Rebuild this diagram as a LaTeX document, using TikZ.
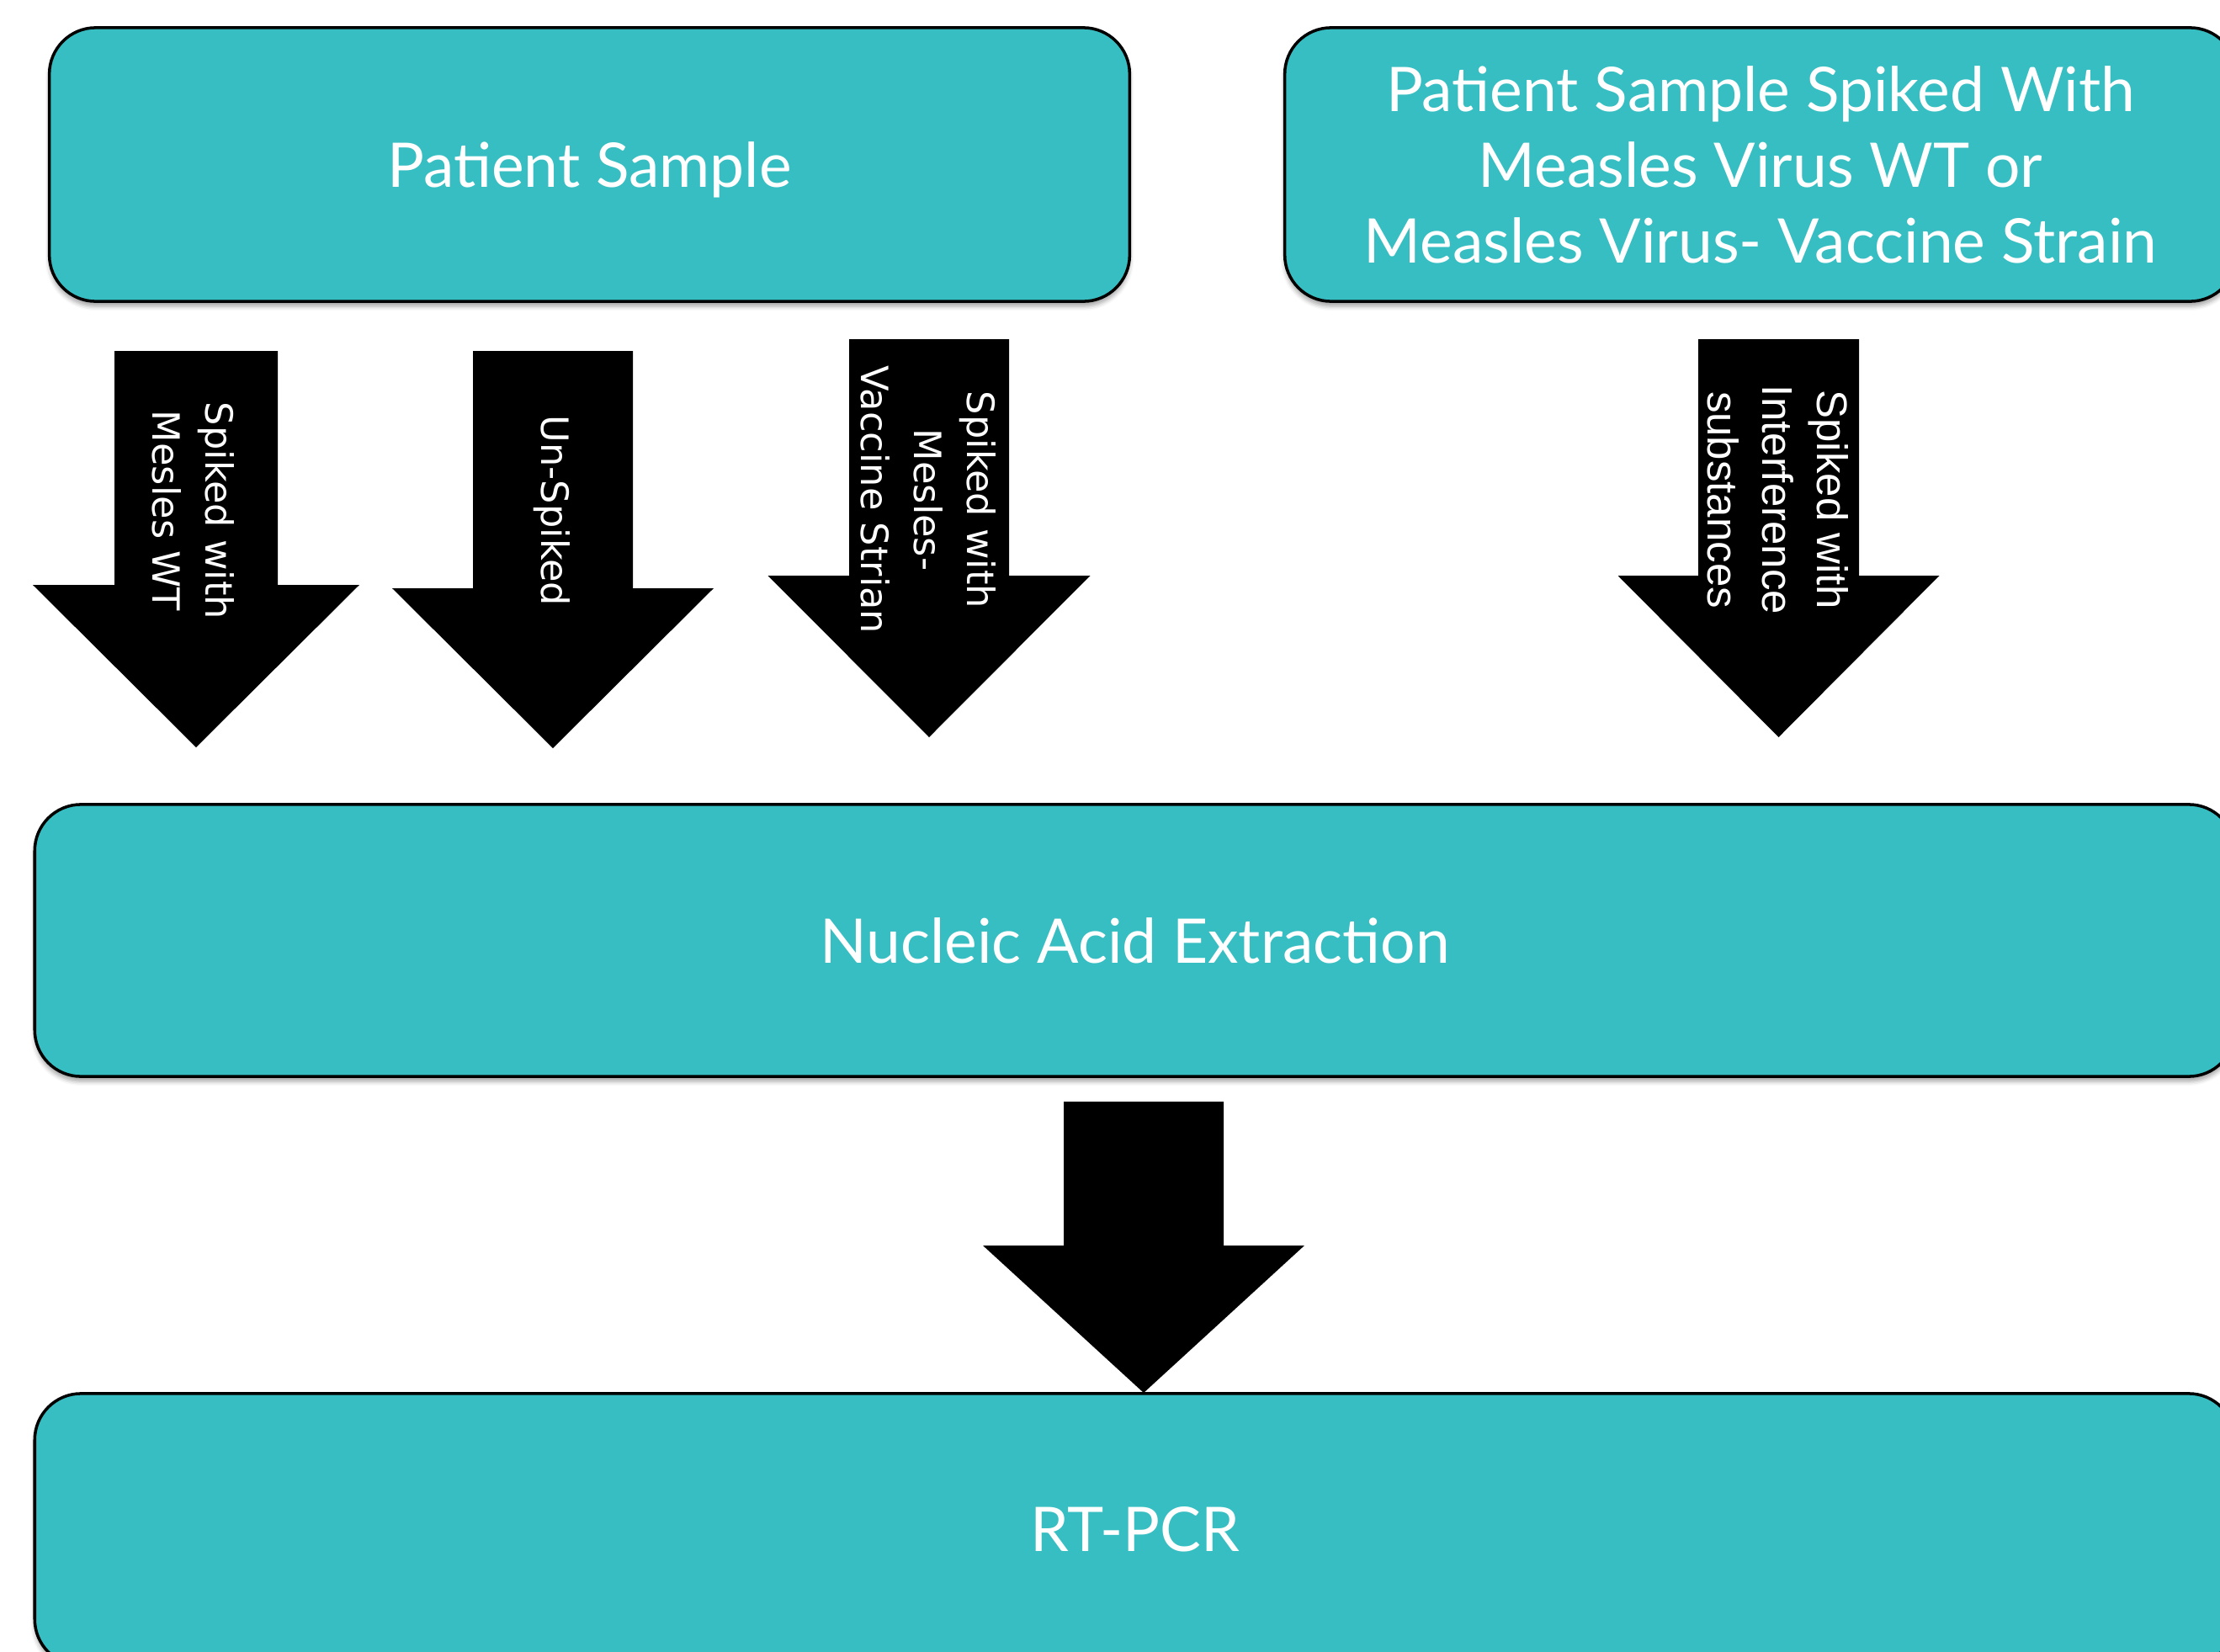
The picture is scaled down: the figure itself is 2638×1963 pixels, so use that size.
\documentclass[tikz,border=0pt]{standalone}
\usepackage{fontspec}
\setmainfont{Lato}
\newfontfamily\arrowfont{DejaVu Sans}
\newfontfamily\arrowfontb{Liberation Sans}
\usetikzlibrary{shadows.blur}
\definecolor{boxteal}{RGB}{55,190,194}
% filled block arrow pointing down: centre x, shaft half width, head half width, top y, head base y, tip y
\newcommand\blockdown[6]{%
  \fill[black] ({#1-#2},#4) -- ({#1+#2},#4) -- ({#1+#2},#5) -- ({#1+#3},#5)
    -- (#1,#6) -- ({#1-#3},#5) -- ({#1-#2},#5) -- cycle;}
\begin{document}
\begin{tikzpicture}[x=0.01cm,y=-0.01cm,
  stepbox/.style={draw=black, line width=1pt, fill=boxteal, rounded corners=0.55cm,
    text=white, align=center, inner sep=0pt,
    font=\fontsize{20.8}{25.6}\selectfont,
    blur shadow={shadow xshift=0pt, shadow yshift=-0.06cm, shadow blur radius=0.05cm, shadow opacity=35}},
  arrowlabel/.style={text=white, rotate=-90, align=center, inner sep=0pt,
    font=\arrowfont\fontsize{12.7}{17.9}\selectfont},
  arrowlabelb/.style={arrowlabel, font=\arrowfontb\fontsize{14.5}{18.5}\selectfont}]
\useasboundingbox (0,0) rectangle (2638,1963);
\clip (0,0) rectangle (2638,1963);

% process boxes
\node[stepbox, text depth=0pt, minimum width=12.83cm, minimum height=3.25cm] (ps) at (700.5,195.5) {Patient Sample};
\node[stepbox, minimum width=11.30cm, minimum height=3.25cm] (pss) at (2092,195.5)
  {Patient Sample Spiked With\\Measles Virus WT or\\Measles Virus- Vaccine Strain};
\node[stepbox, minimum width=26.13cm, minimum height=3.23cm] (nae) at (1348.5,1117.5) {Nucleic Acid Extraction};
\node[stepbox, minimum width=26.13cm, minimum height=3.23cm] (rt) at (1348.5,1817.5) {RT-PCR};

% block arrows from the samples to the extraction step
\blockdown{233}{97}{194}{417}{695}{888}
\blockdown{657}{95}{191}{417}{699}{889}
\blockdown{1104}{95}{191.5}{403}{684}{876}
\blockdown{2113.5}{95.5}{191}{403}{684}{876}
% block arrow from extraction to RT-PCR
\blockdown{1359}{95}{191}{1309}{1480}{1655}

% arrow labels
\node[arrowlabel] (l1) at (230,607) {Spiked with\\Mesles WT};
\node[arrowlabel] (l2) at (656,607) {Un-Spiked};
\node[arrowlabel] (l3) at (1103,594) {Spiked with\\Mesles-\\Vaccine Strian};
\node[arrowlabelb] (l4) at (2113,594) {Spiked with\\Interference\\substances};
\end{tikzpicture}
\end{document}
